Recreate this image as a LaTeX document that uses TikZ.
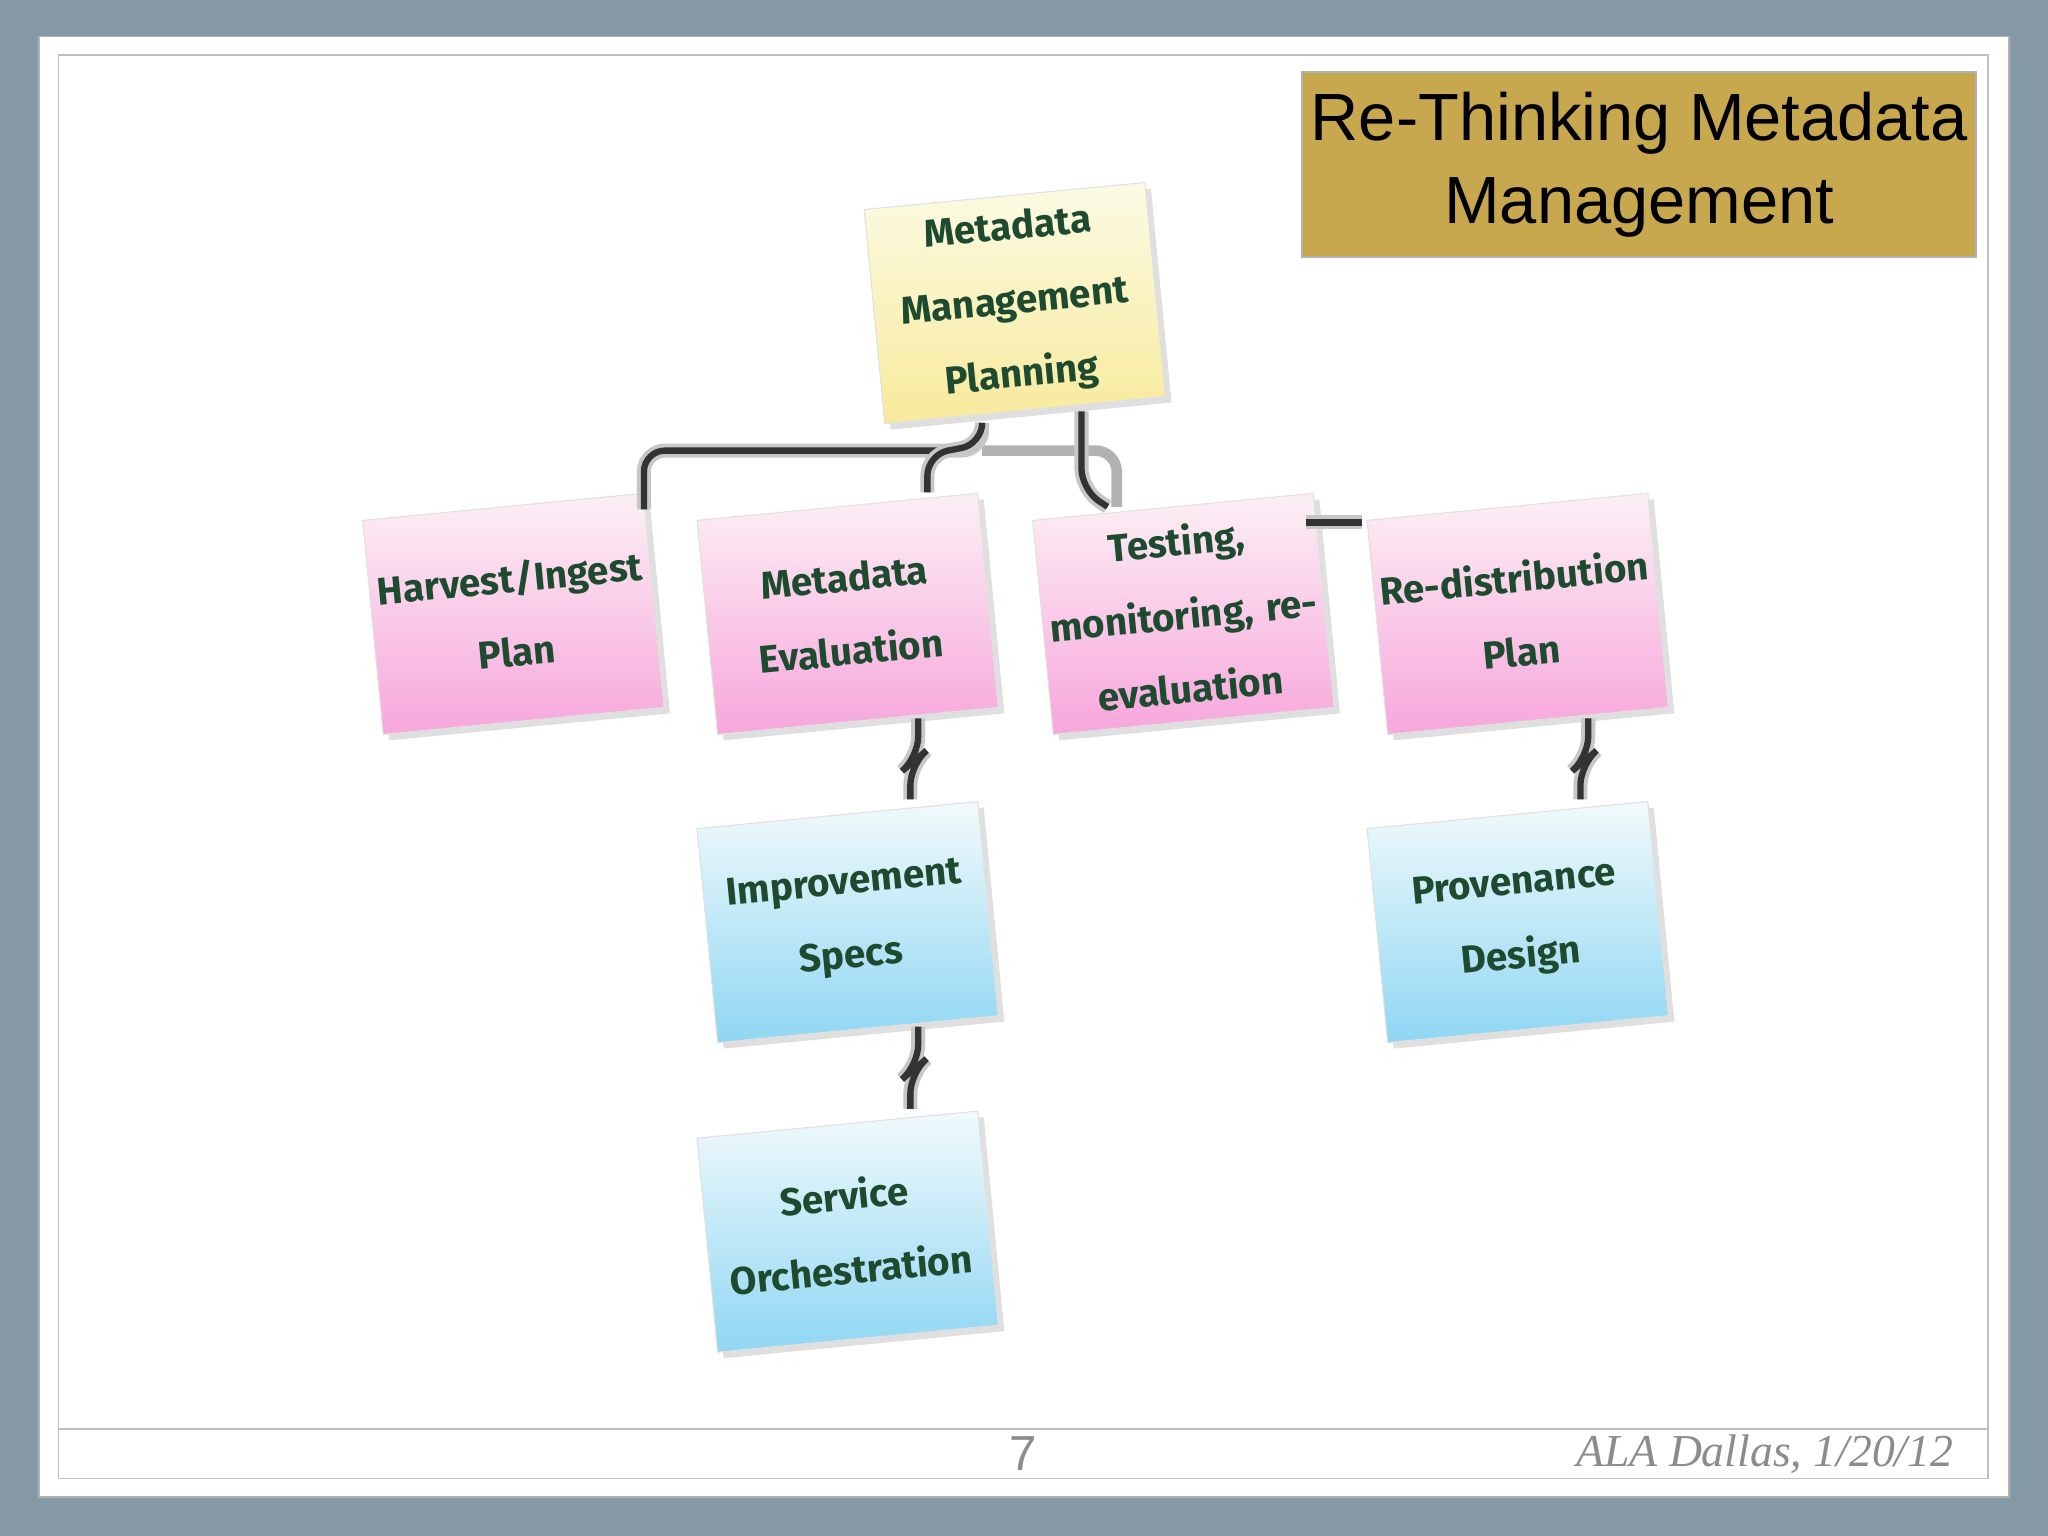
\documentclass[tikz,border=0pt]{standalone}
\usepackage{fontspec}
\setmainfont{Liberation Sans}
\newfontfamily\notefont{Fira Sans}
\newfontfamily\footfont{Liberation Serif}
\usetikzlibrary{shadows,calc}
\definecolor{frameblue}{HTML}{8599A6}
\definecolor{gold}{HTML}{C8A84E}
\definecolor{ink}{HTML}{1E4A30}
\definecolor{pinkb}{HTML}{F7A6DC}
\definecolor{pinkt}{HTML}{FCF0F4}
\definecolor{blueb}{HTML}{8FD6F3}
\definecolor{bluet}{HTML}{F2FAFB}
\definecolor{yelb}{HTML}{F8EA9C}
\definecolor{yelt}{HTML}{FBFBE4}
\tikzset{
 note/.style={rotate=5.5,minimum width=2.78cm,minimum height=2.15cm,align=center,
   text width=2.75cm,font=\notefont\bfseries\fontsize{11}{21}\selectfont,text=ink,inner sep=1pt,
   draw=black!12,line width=0.3pt,drop shadow={opacity=0.25,shadow xshift=0.06cm,shadow yshift=-0.06cm}},
 pinknote/.style={note,top color=pinkt,bottom color=pinkb},
 bluenote/.style={note,top color=bluet,bottom color=blueb},
 yelnote/.style={note,top color=yelt,bottom color=yelb},
 conn/.style={draw=black!80,line width=1.8pt,rounded corners=6pt,
   preaction={draw=black!22,line width=4pt}},
 lconn/.style={draw=black!30,line width=3pt,rounded corners=6pt},
}
\begin{document}
\begin{tikzpicture}[x=0.01306cm,y=-0.01306cm]
\useasboundingbox (0,0) rectangle (1568,1176);
\fill[frameblue] (0,0) rectangle (1568,1176);
\fill[white,draw=black!30] (30,28) rectangle (1538,1146);
\draw[black!25] (45,42) rectangle (1522,1132);
\draw[black!25] (45,1094) -- (1522,1094);
\node[fill=gold,draw=black!30,minimum width=6.74cm,minimum height=1.85cm,align=center,
  font=\fontsize{19}{23.5}\selectfont,inner sep=0pt] (title) at (1255,126)
  {Re-Thinking Metadata\\Management};
\node[yelnote] (mmp) at (777,232) {Metadata\\Management\\Planning};
\node[pinknote] (harv) at (393,470) {Harvest/Ingest\\Plan};
\node[pinknote] (eval) at (649,470) {Metadata\\Evaluation};
\node[pinknote] (test) at (906,470) {Testing,\\monitoring, re-\\evaluation};
\node[pinknote] (redis) at (1162,470) {Re-distribution\\Plan};
\node[bluenote] (impr) at (649,706) {Improvement\\Specs};
\node[bluenote] (serv) at (649,943) {Service\\Orchestration};
\node[bluenote] (prov) at (1162,706) {Provenance\\Design};
\draw[lconn] ($(mmp)+(-25,113)$) -| ($(test)+(-51,-82)$);
\draw[conn] ($(mmp)+(-25,93)$) -- ++(0,20) -| ($(harv)+(100,-80)$);
\draw[conn] ($(mmp)+(-25,93)$) -- ++(0,15) -- ++(-42,8) -- ($(eval)+(61,-93)$);
\draw[conn] ($(mmp)+(51,83)$) -- ++(0,60) -- ($(test)+(-58,-82)$);
\draw[conn] ($(test)+(94,-70)$) -- ($(redis)+(-119,-70)$);
\draw[conn] ($(eval)+(54,80)$) -- ++(0,30) -- ++(-6,5) -- ($(impr)+(48,-94)$);
\draw[conn] ($(impr)+(54,80)$) -- ++(0,30) -- ++(-6,5) -- ($(serv)+(48,-94)$);
\draw[conn] ($(redis)+(54,80)$) -- ++(0,30) -- ++(-6,5) -- ($(prov)+(48,-94)$);
\node[text=black!45,font=\fontsize{14}{16}\selectfont] (pg) at (783,1113) {7};
\node[text=black!45,font=\footfont\itshape\fontsize{13}{16}\selectfont,anchor=east] (ft) at (1505,1113) {ALA Dallas, 1/20/12};
\end{tikzpicture}
\end{document}
